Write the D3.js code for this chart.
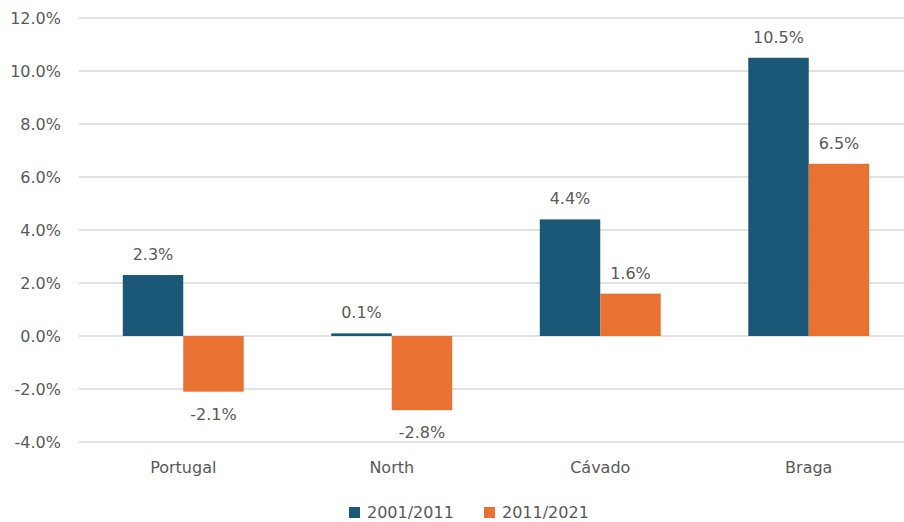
<!DOCTYPE html>
<html>
<head>
<meta charset="utf-8">
<script src="https://d3js.org/d3.v7.min.js"></script>
<style>
  body { margin: 0; background: #fff; }
  svg text { font-family: "DejaVu Sans", sans-serif; fill: #595959; }
</style>
</head>
<body>
<script>

var categories = ["Portugal", "North", "Cávado", "Braga"];
var seriesNames = ["2001/2011", "2011/2021"];
var values2001 = [2.3, 0.1, 4.4, 10.5];
var values2011 = [-2.1, -2.8, 1.6, 6.5];
var yTicks = [-4, -2, 0, 2, 4, 6, 8, 10, 12];
var colors = ["#1b5878", "#e97132"];

var width = 904, height = 522;

var svg = d3.select("body").append("svg")
    .attr("width", width)
    .attr("height", height);

var y = d3.scaleLinear().domain([-4, 12]).range([442, 18]);

var x0 = d3.scaleBand()
    .domain(categories)
    .range([79, 913])
    .paddingInner(0.42)
    .paddingOuter(0.21);

var x1 = d3.scaleBand()
    .domain(seriesNames)
    .range([0, x0.bandwidth()]);

// gridlines
svg.append("g").selectAll("line")
    .data(yTicks)
  .enter().append("line")
    .attr("x1", 79).attr("x2", width)
    .attr("y1", function(d) { return y(d); })
    .attr("y2", function(d) { return y(d); })
    .attr("stroke", "#d9d9d9")
    .attr("stroke-width", 1.3);

// y axis labels
var yAxis = svg.append("g")
    .attr("transform", "translate(71,0)")
    .call(d3.axisLeft(y).tickValues(yTicks).tickSize(0).tickPadding(10)
      .tickFormat(function(d) { return d.toFixed(1) + "%"; }));
yAxis.select(".domain").remove();
yAxis.selectAll("text").style("font-size", "16px").attr("fill", "#595959");

// x axis labels
var xAxis = svg.append("g")
    .attr("transform", "translate(0,459)")
    .call(d3.axisBottom(x0).tickSize(0).tickPadding(3));
xAxis.select(".domain").remove();
xAxis.selectAll("text").style("font-size", "16px").attr("fill", "#595959");

var rows = categories.map(function(c, i) {
  return { cat: c, vals: [values2001[i], values2011[i]] };
});

var groups = svg.append("g").selectAll("g")
    .data(rows)
  .enter().append("g")
    .attr("transform", function(d) { return "translate(" + x0(d.cat) + ",0)"; });

groups.selectAll("rect")
    .data(function(d) { return d.vals.map(function(v, j) { return { s: seriesNames[j], v: v, j: j }; }); })
  .enter().append("rect")
    .attr("x", function(d) { return x1(d.s); })
    .attr("width", x1.bandwidth())
    .attr("y", function(d) { return y(Math.max(0, d.v)); })
    .attr("height", function(d) { return Math.max(1.5, Math.abs(y(d.v) - y(0))); })
    .attr("fill", function(d) { return colors[d.j]; });

groups.selectAll("text.lbl")
    .data(function(d) { return d.vals.map(function(v, j) { return { s: seriesNames[j], v: v }; }); })
  .enter().append("text")
    .attr("class", "lbl")
    .attr("x", function(d) { return x1(d.s) + x1.bandwidth() / 2; })
    .attr("y", function(d) { return d.v >= 0 ? y(d.v) - 15 : y(d.v) + 28; })
    .attr("text-anchor", "middle")
    .style("font-size", "16px")
    .text(function(d) { return d.v.toFixed(1) + "%"; });

// legend
var legend = svg.append("g").selectAll("g")
    .data(seriesNames)
  .enter().append("g")
    .attr("transform", function(d, i) { return "translate(" + (349 + i * 135) + ",507)"; });

legend.append("rect")
    .attr("width", 11).attr("height", 11)
    .attr("fill", function(d, i) { return colors[i]; });

legend.append("text")
    .attr("x", 18).attr("y", 11)
    .style("font-size", "16px")
    .text(function(d) { return d; });

</script>
</body>
</html>
